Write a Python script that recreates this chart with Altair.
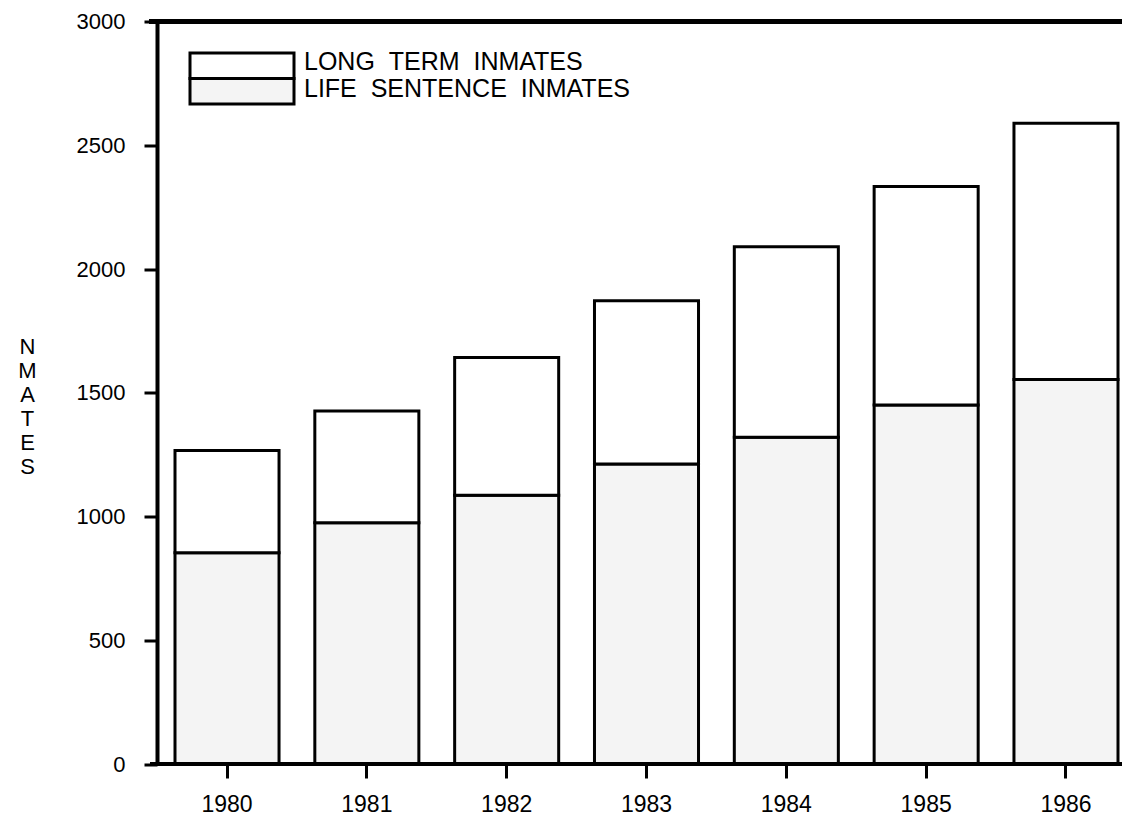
import altair as alt
import pandas as pd

# ---- data ----
years = ["1980", "1981", "1982", "1983", "1984", "1985", "1986"]
life_sentence = [854, 975, 1086, 1212, 1320, 1451, 1554]
long_term = [413, 451, 556, 660, 770, 882, 1035]

series_names = ["LONG TERM INMATES", "LIFE SENTENCE INMATES"]
series_fills = ["#ffffff", "#f4f4f4"]
y_ticks = [0, 500, 1000, 1500, 2000, 2500, 3000]
y_title = ["N", "M", "A", "T", "E", "S"]

FONT = "Liberation Sans"

rows = []
for yr, life, lt in zip(years, life_sentence, long_term):
    rows.append({"year": yr, "series": series_names[1], "lo": 0, "hi": life})
    rows.append({"year": yr, "series": series_names[0], "lo": life, "hi": life + lt})
df = pd.DataFrame(rows)

NB2 = "\u00a0\u00a0"
legend_df = pd.DataFrame({
    "series": series_names,
    "label": [s.replace(" ", NB2) for s in series_names],
})

W = 965
H = 742.5
fill_scale = alt.Scale(domain=series_names, range=series_fills)

bars = alt.Chart(df).mark_bar(stroke="black", strokeWidth=3, strokeJoin="miter").encode(
    x=alt.X(
        "year:N",
        sort=years,
        scale=alt.Scale(range=[18, 961], paddingInner=0.256, paddingOuter=0),
        axis=alt.Axis(
            domain=False, grid=False, ticks=True, tickSize=14, tickWidth=3,
            tickColor="black", labelFont=FONT, labelFontSize=23, labelColor="black",
            labelPadding=15, labelAngle=0, title=None,
        ),
    ),
    y=alt.Y(
        "lo:Q",
        scale=alt.Scale(domain=[0, 3000], nice=False, zero=True),
        axis=alt.Axis(
            values=y_ticks, format="d", grid=False, domain=True, domainColor="black",
            domainWidth=4, ticks=True, tickSize=13, tickWidth=3, tickColor="black",
            labelFont=FONT, labelFontSize=22, labelColor="black", labelPadding=19,
            labelFlush=False,
            title=y_title, titleAngle=0, titleX=-130, titleY=332,
            titleAlign="center", titleBaseline="alphabetic", titleLineHeight=24,
            titleFont=FONT, titleFontSize=22, titleFontWeight="normal",
            titleColor="black",
        ),
    ),
    y2="hi:Q",
    fill=alt.Fill("series:N", scale=fill_scale, legend=None),
)

top_rule = alt.Chart(df).mark_rule(color="black", strokeWidth=4).encode(
    y=alt.datum(3000), x=alt.value(-8), x2=alt.value(W)
)
bottom_rule = alt.Chart(df).mark_rule(color="black", strokeWidth=3).encode(
    y=alt.datum(0), x=alt.value(-7), x2=alt.value(W)
)

# hand-built legend: two stacked boxes sharing an edge, labels to the right
legend_layers = []
box_rows = [(31.5, 57.0, 40.5), (57.0, 82.5, 67.0)]
for name, (y_top, y_bot, y_txt) in zip(series_names, box_rows):
    base = alt.Chart(legend_df).transform_filter(alt.datum.series == name)
    legend_layers.append(
        base.mark_rect(stroke="black", strokeWidth=3, strokeJoin="miter").encode(
            x=alt.value(33), x2=alt.value(137),
            y=alt.value(y_top), y2=alt.value(y_bot),
            fill=alt.Fill("series:N", scale=fill_scale, legend=None),
        )
    )
    legend_layers.append(
        base.mark_text(
            align="left", baseline="middle", font=FONT, fontSize=25, color="black"
        ).encode(x=alt.value(147), y=alt.value(y_txt), text="label:N")
    )

chart = alt.layer(bars, top_rule, bottom_rule, *legend_layers).properties(
    width=W,
    height=H,
    autosize=alt.AutoSizeParams(type="none"),
    padding={"left": 149, "top": 13.5, "right": 0, "bottom": 53},
    background="white",
).configure_view(stroke=None)

chart.save("out.html", embed_options={"renderer": "svg", "actions": False})
